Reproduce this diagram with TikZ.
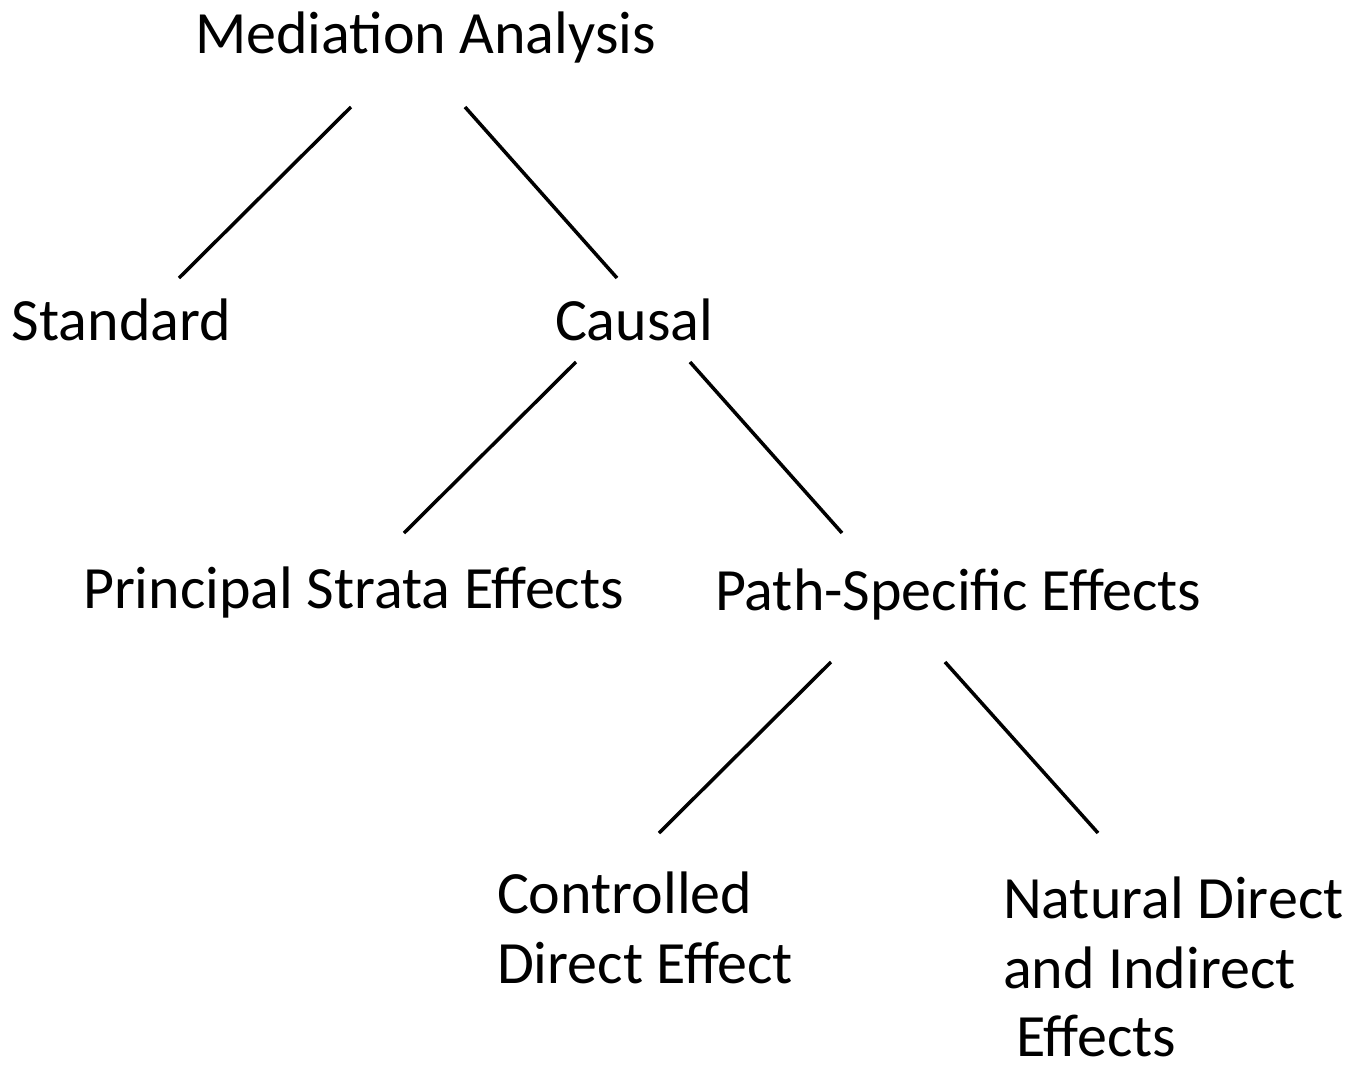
\documentclass[tikz,border=0pt]{standalone}
\usepackage{fontspec}
\setmainfont{Carlito}
\begin{document}
\begin{tikzpicture}[x=1pt,y=-1pt,
  lbl/.style={inner sep=0pt,outer sep=0pt,anchor=base west,font=\fontsize{60}{70}\selectfont},
  link/.style={line width=3.5pt,black}]
\useasboundingbox (0,0) rectangle (1363,1066);
\node[lbl] (ma) at (195,53) {Mediation Analysis};
\node[lbl] (std) at (12,340) {Standard};
\node[lbl] (cau) at (555,340) {Causal};
\node[lbl] (pse) at (83,608) {Principal Strata Effects};
\node[lbl] (pth) at (715,610) {Path-Specific Effects};
\node[lbl] (cde1) at (497,913) {Controlled};
\node[lbl] (cde2) at (497,983) {Direct Effect};
\node[lbl] (nde1) at (1003,918) {Natural Direct};
\node[lbl] (nde2) at (1003,988) {and Indirect};
\node[lbl] (nde3) at (1003,1056) {\ Effects};
\coordinate (a1) at (351,107); \coordinate (a2) at (179,278);
\coordinate (b1) at (465,107); \coordinate (b2) at (617,278);
\coordinate (c1) at (576,362); \coordinate (c2) at (404,533);
\coordinate (d1) at (690,362); \coordinate (d2) at (842,533);
\coordinate (e1) at (831,662); \coordinate (e2) at (659,833);
\coordinate (f1) at (945,662); \coordinate (f2) at (1098,833);
\draw[link] (a1) -- (a2);
\draw[link] (b1) -- (b2);
\draw[link] (c1) -- (c2);
\draw[link] (d1) -- (d2);
\draw[link] (e1) -- (e2);
\draw[link] (f1) -- (f2);
\end{tikzpicture}
\end{document}
